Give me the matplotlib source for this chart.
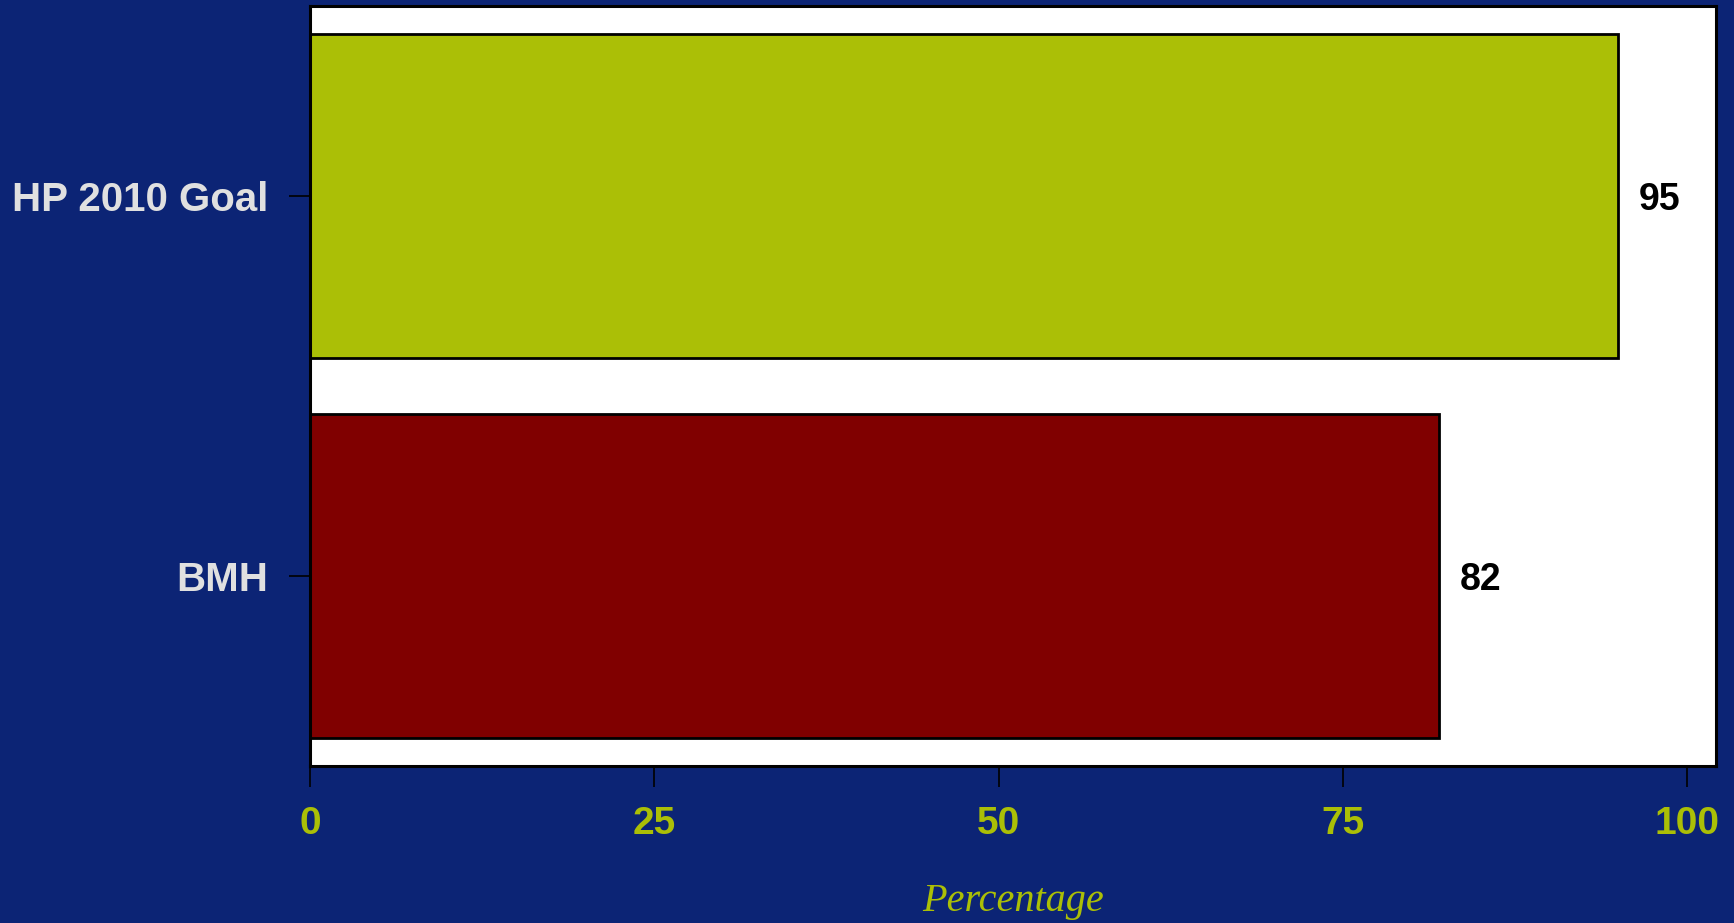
import matplotlib.pyplot as plt

# dados do grafico
categorias = ['BMH', 'HP 2010 Goal']
valores = [82, 95]
cores = ['#800000', '#ABBF06']
xticks = [0, 25, 50, 75, 100]

FUNDO = '#0C2475'
OLIVA = '#ABBF06'

fig = plt.figure(figsize=(17.34, 9.23), dpi=100, facecolor=FUNDO)
ax = fig.add_axes([0.1788, 0.1701, 0.8108, 0.8234])
ax.set_facecolor('white')

pos = range(len(categorias))
ax.barh(pos, valores, height=0.853, color=cores, edgecolor='black', linewidth=2)

# rotulos de valor
for p, v in zip(pos, valores):
    ax.text(v + 1.5, p, str(v), va='center_baseline', ha='left', fontsize=27,
            fontweight='bold', color='black', family='Liberation Sans')

ax.set_xlim(0, 102.1)
ax.set_ylim(-0.5, 1.5)

ax.set_yticks(list(pos))
ax.set_yticklabels(categorias, fontsize=29, fontweight='bold', color='#E0E0E0',
                   family='Liberation Sans')
ax.set_xticks(xticks)
ax.set_xticklabels([str(t) for t in xticks], fontsize=28, fontweight='bold',
                   color=OLIVA, family='Liberation Sans')
ax.tick_params(axis='y', length=15, width=1.2, color='black', pad=15)
ax.tick_params(axis='x', length=15, width=1.2, color='black', pad=14)

for s in ax.spines.values():
    s.set_linewidth(2.2)
    s.set_color('black')

ax.set_xlabel('Percentage', fontsize=29, style='italic', color=OLIVA,
              family='Liberation Serif', labelpad=29)

fig.savefig('out.png', dpi=100, facecolor=FUNDO)
